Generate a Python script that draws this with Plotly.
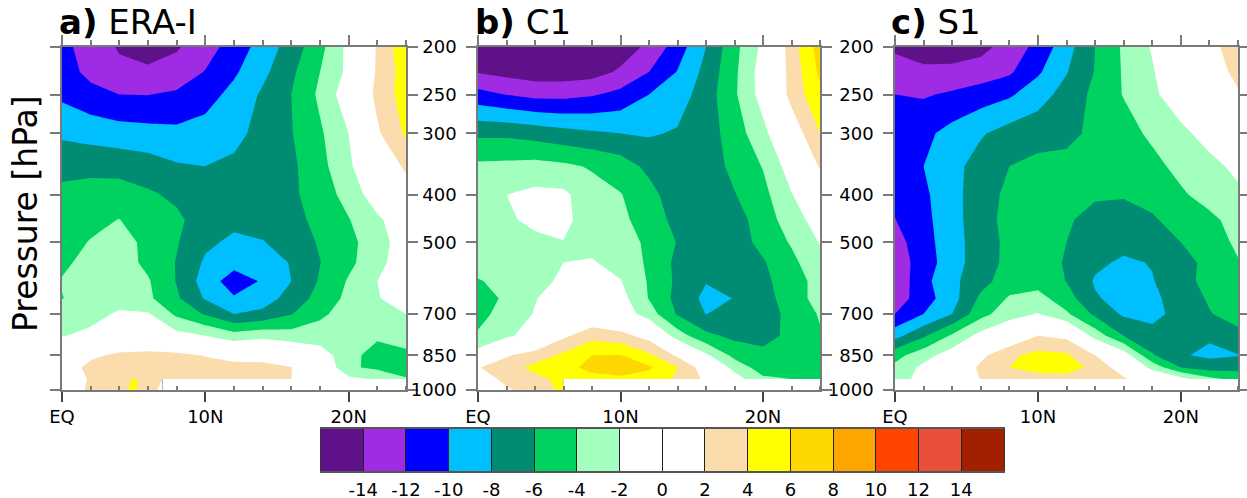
import plotly.graph_objects as go

latitudes = [0, 2, 4, 6, 8, 10, 12, 14, 16, 18, 20, 22, 24]
pressures = [200, 225, 250, 300, 350, 400, 450, 500, 550, 600, 650, 700, 775, 850, 900, 950]

era_i = [
    [-11.5, -12.8, -14.2, -14.7, -14.2, -12.9, -11.1, -9.2, -7.1, -4.6, -1.4, 2.2, 5.5],
    [-11, -12.6, -13.5, -13.7, -13.2, -11.9, -10.3, -8.5, -6.4, -4.0, -1.5, 2.3, 5],
    [-10.4, -11.3, -12, -12.05, -11.7, -10.8, -9.4, -7.7, -6, -3.6, -0.7, 2.5, 5],
    [-8.4, -8.8, -9.1, -9.3, -9.5, -9.2, -8.6, -7.3, -6.1, -4.3, -2, 1.7, 4.3],
    [-6.5, -6.5, -6.7, -7.1, -7.8, -8, -7.6, -7, -6.4, -4.65, -2.4, 0.4, 2.3],
    [-5.6, -5.3, -5.1, -5.7, -6.4, -6.8, -7.2, -7, -6.4, -5, -3.3, -0.8, 1.2],
    [-5.1, -4.5, -3.95, -5.3, -5.6, -7, -7.5, -7.2, -6.7, -5.4, -4.1, -2.4, -0.5],
    [-4.7, -3.9, -3.2, -4.5, -5.85, -7.6, -8.4, -8.1, -7.1, -5.8, -4.6, -2.8, -1],
    [-4.3, -3.5, -3, -4.5, -6.1, -8.3, -9.3, -8.8, -7.9, -6.05, -4.5, -2.6, -0.8],
    [-3.9, -3.2, -2.8, -3.8, -6.1, -8.9, -11, -9.8, -8, -5.8, -3.8, -2, -0.5],
    [-4.05, -3.3, -2.9, -3.6, -5.7, -8.2, -9.8, -9, -7.2, -5.3, -3.5, -2.1, -1.2],
    [-3.2, -2.7, -1.7, -1.8, -4.4, -6.2, -8, -7.5, -6.1, -4.4, -3.1, -2.4, -2],
    [-2.1, -1.5, -1, -0.7, -1.3, -2, -3.2, -2.6, -3.1, -3, -2.7, -3.6, -3],
    [0.2, 1.5, 2.5, 2.7, 2.5, 1.9, 1.2, 1.2, 0.5, -1, -3.2, -5, -4.5],
    [0.5, 2.7, 3.2, 3.2, 3.1, 2.8, 2.7, 2.6, 2.05, 0.3, -3.7, -4.4, -4.5],
    [0, 2.3, 3.5, 3.7, 2.5, 2.5, 2.4, 2.4, 2, 0.3, -1.5, -2.2, -3.9],
]

c1 = [
    [-15, -15.5, -15.8, -15.8, -15.5, -15, -13.6, -11, -8, -4.6, -1.5, 3, 6.9],
    [-14.1, -14.6, -15, -15, -14.8, -13.7, -12, -9.9, -7.4, -4.4, -1, 2.7, 6.4],
    [-11.3, -12.05, -12.6, -12.6, -12.2, -11.4, -10, -9, -7, -4.3, -1.15, 2.65, 5.6],
    [-6.4, -6.4, -6.8, -7.3, -7.7, -8, -8.2, -7.8, -7, -5, -2.6, 0.6, 4],
    [-3.6, -3.5, -3.3, -3.6, -4.2, -5, -6.5, -7, -7, -5.5, -3.9, -1, 2.2],
    [-3, -2, -1.5, -1.6, -3.2, -3.9, -5.3, -7.2, -7.5, -6.1, -4.6, -2.1, 0.2],
    [-2.6, -2.2, -1.7, -1.5, -3, -3.7, -4.6, -6.8, -7.6, -6.9, -5, -3, -1],
    [-3, -2.9, -2.3, -2.05, -2.7, -3.3, -4.3, -6.1, -7.4, -7, -5.4, -3.8, -1.9],
    [-3.4, -3, -2.6, -2, -1.8, -2.8, -4.3, -6.5, -7.6, -7.2, -6.2, -4.5, -2.6],
    [-4.1, -3.6, -2.9, -1.5, -1.1, -1.9, -4.2, -6.4, -7.9, -7.5, -6.5, -4.9, -3.3],
    [-4.8, -3.7, -2.1, -1, -0.8, -1.2, -4.1, -6.6, -8.5, -7.95, -6.9, -4.9, -3.3],
    [-4.8, -3, -1.9, -0.5, 0, -0.7, -3, -6.2, -8.05, -7.2, -6.8, -5.5, -3.8],
    [-3.7, -2.4, -1, 1.6, 3.3, 2.7, 1.2, -3, -5.5, -6.5, -7, -5.3, -4.2],
    [-1, 1.8, 2.9, 4.4, 6, 6.1, 4.4, 1.6, -1.6, -4.6, -5.2, -6, -4.8],
    [1.9, 3, 4.6, 5.3, 6.6, 6.8, 6.3, 4.05, 0.8, -2.7, -5, -5.5, -5],
    [0.7, 2.6, 3.4, 4.6, 5.3, 5.7, 5, 3.7, 1.6, -1, -3.6, -4, -4.2],
]

s1 = [
    [-14.3, -14.9, -15, -14.6, -13.2, -11.4, -8.8, -6, -3.7, -1.8, 0, 1.4, 3],
    [-13.2, -13.6, -13.5, -13.1, -12.3, -10.3, -8.1, -5.9, -3.8, -2.2, 0, 1, 2.5],
    [-12, -12.2, -11.7, -11, -10.3, -8.8, -7.3, -5.5, -3.9, -2.4, -0.8, 0.5, 1.8],
    [-11.5, -10.5, -9.3, -8.2, -7.2, -6.9, -6.7, -5.4, -4.8, -3.6, -2.5, -1.2, -0.5],
    [-11.5, -10, -8.6, -7.2, -6, -5.4, -5.2, -5, -4.8, -4.6, -3.4, -2.6, -1.5],
    [-11.5, -10.4, -8.6, -7, -5.5, -5, -5.2, -5.7, -5.8, -5.2, -4.3, -3.2, -2.4],
    [-12.05, -10.6, -8.7, -6.9, -5.3, -5, -5.7, -6.8, -7, -6.3, -5, -4.5, -3.2],
    [-12.8, -10.8, -8.8, -7, -5.5, -5, -6, -7.3, -7.4, -7, -6, -4.8, -3.7],
    [-13.2, -11, -8.9, -6.9, -5.5, -5, -6.2, -7.6, -8.3, -7.9, -6.8, -5.4, -4.1],
    [-13.5, -10.6, -8.5, -6.7, -5, -4.8, -6.05, -8.2, -8.7, -8.1, -6.9, -5.2, -4.2],
    [-13.1, -10.9, -8.8, -5.6, -3.8, -3.3, -5.1, -7.8, -8.7, -8.5, -7, -5.8, -4.6],
    [-12, -10, -8, -4.7, -2.8, -1.9, -3.7, -6.4, -8.3, -8.6, -7.3, -6.1, -5.3],
    [-8.7, -6.3, -3.7, -1.3, 0, 2, 1.5, -2.8, -6, -7.3, -7.5, -7.75, -6.5],
    [-4.7, -2.8, -1, 1.5, 3.6, 4.6, 4.3, 2, -0.8, -5.8, -7.8, -8.4, -8.1],
    [-3.5, -1.5, 0, 2.4, 4, 4.8, 4.8, 3.5, 0.8, -2.6, -6, -6.9, -6.7],
    [-3, -1.2, -0.5, 2.1, 2.9, 3.1, 3.3, 2.6, 2.3, 0.2, -1.2, -3.5, -4.5],
]

# Lowest layer (950-1000 hPa) only exists near the equator in panels a and b
era_i_low_lat = [0, 1.5, 2, 4, 5, 6, 7]
era_i_low_p = [950, 1000]
era_i_low = [
    [0, 1.7, 2.3, 3.5, 4.1, 3.7, 2.05],
    [0.5, 1.9, 2.5, 3.5, 4.3, 3, 1.4],
]
c1_low_lat = [0, 2, 4, 6]
c1_low_p = [950, 1000]
c1_low = [
    [0.7, 2.6, 3.4, 4.6],
    [0.2, 1.7, 3.0, 4.4],
]

panel_names = ["ERA-I", "C1", "S1"]
panel_tags = ["a)", "b)", "c)"]
level_ticks = [-14, -12, -10, -8, -6, -4, -2, 0, 2, 4, 6, 8, 10, 12, 14]
band_centers = [-15, -13, -11, -9, -7, -5, -3, -1, 1, 3, 5, 7, 9, 11, 13, 15]
band_colors = ["#5e1189", "#a02be4", "#0000ff", "#00bfff", "#008b73", "#00d25f", "#a3ffbd", "#ffffff",
               "#ffffff", "#fadcad", "#ffff00", "#ffd700", "#ffa500", "#ff4500", "#e8503a", "#a02000"]
lat_tick_vals = [0, 10, 20]
lat_tick_text = ["EQ", "10N", "20N"]
lat_minor_vals = [2, 4, 6, 8, 12, 14, 16, 18, 22, 24]
p_tick_vals = [200, 250, 300, 400, 500, 700, 850, 1000]
p_tick_text = ["200", "250", "300", "400", "500", "700", "850", "1000"]

W, H = 1247, 498
AXC = "#7a7a7a"
FONT = "DejaVu Sans"
panels_px = [(62, 406), (478, 820), (895, 1238)]
top_px, bot_px = 47, 390

n = len(band_colors)
colorscale = []
for i, c in enumerate(band_colors):
    colorscale += [[i / n, c], [(i + 1) / n, c]]

fig = go.Figure()


def contour(x, y, z, xa, ya):
    fig.add_trace(go.Contour(
        x=x, y=y, z=z, xaxis=xa, yaxis=ya, autocontour=False, zmin=-16, zmax=16,
        contours=dict(start=-16, end=16, size=2, coloring="fill", showlines=False),
        line=dict(width=0, smoothing=0), colorscale=colorscale, hoverinfo="skip", showscale=False,
    ))


sets = [era_i, c1, s1]
for i in range(3):
    sfx = "" if i == 0 else str(i + 1)
    contour(latitudes, pressures, sets[i], "x" + sfx, "y" + sfx)
contour(era_i_low_lat, era_i_low_p, era_i_low, "x", "y")
contour(c1_low_lat, c1_low_p, c1_low, "x2", "y2")

# Label bar: one row of boxes on its own axis
fig.add_trace(go.Heatmap(
    x=band_centers, y=[0], z=[band_centers], xaxis="x7", yaxis="y7", zmin=-16, zmax=16,
    colorscale=colorscale, showscale=False, hoverinfo="skip",
))

layout = dict(
    width=W, height=H, margin=dict(l=0, r=0, t=0, b=0, autoexpand=False),
    paper_bgcolor="white", plot_bgcolor="white", showlegend=False,
)
annos = []
for i, (l, r) in enumerate(panels_px):
    xn = "xaxis" if i == 0 else f"xaxis{i + 1}"
    yn = "yaxis" if i == 0 else f"yaxis{i + 1}"
    yid = "y" if i == 0 else f"y{i + 1}"
    xid = "x" if i == 0 else f"x{i + 1}"
    topid = f"x{i + 4}"
    dom = [l / W, r / W]
    layout[xn] = dict(
        domain=dom, range=[0, 24], anchor=yid, side="bottom", tickmode="array",
        tickvals=lat_tick_vals, ticktext=lat_tick_text, ticks="outside", ticklen=10, tickwidth=1.5,
        tickcolor="#444444", showgrid=False, zeroline=False, showline=True, linecolor=AXC, linewidth=1.5,
        tickfont=dict(family=FONT, size=18, color="black"), tickangle=0,
        minor=dict(tickmode="array", tickvals=lat_minor_vals, ticks="inside", ticklen=4, tickwidth=1.5,
                   tickcolor=AXC, showgrid=False),
    )
    layout[f"xaxis{i + 4}"] = dict(
        domain=dom, range=[0, 24], anchor=yid, overlaying=xid, side="top", tickmode="array",
        tickvals=lat_tick_vals, ticktext=["", "", ""], ticks="outside", ticklen=10, tickwidth=1.5,
        tickcolor=AXC, showgrid=False, zeroline=False, showline=True, linecolor=AXC, linewidth=1.5,
        minor=dict(tickmode="array", tickvals=lat_minor_vals, ticks="outside", ticklen=5, tickwidth=1.5,
                   tickcolor=AXC, showgrid=False),
    )
    fig.add_trace(go.Scatter(x=[None], y=[None], xaxis=topid, yaxis=yid, hoverinfo="skip", mode="lines"))
    y_labels = p_tick_text if i > 0 else [""] * len(p_tick_text)
    layout[yn] = dict(
        domain=[1 - bot_px / H, 1 - top_px / H], type="log", range=[3, 2.30103], anchor=xid, side="left",
        tickmode="array", tickvals=p_tick_vals, ticktext=y_labels, ticks="outside", ticklen=10, tickwidth=1.5,
        tickcolor=AXC, showgrid=False, zeroline=False, showline=True, linecolor=AXC, linewidth=1.5,
        mirror="ticks", tickfont=dict(family=FONT, size=18, color="black"), ticklabelstandoff=6,
    )
    annos.append(dict(
        xref="paper", yref="paper", x=(l - 5 if i < 2 else 889) / W, y=1 - 22 / H, xanchor="left", yanchor="middle",
        text=f"<b>{panel_tags[i]}</b> {panel_names[i]}", showarrow=False,
        font=dict(family=FONT, size=34, color="black"),
    ))
annos.append(dict(
    xref="paper", yref="paper", x=25 / W, y=1 - 214 / H, xanchor="center", yanchor="middle", textangle=-90,
    text="Pressure [hPa]", showarrow=False, font=dict(family=FONT, size=33, color="black"),
))
layout["annotations"] = annos
layout["xaxis7"] = dict(
    domain=[320.5 / W, 1004 / W], range=[-16, 16], anchor="y7", side="bottom", tickmode="array",
    tickvals=level_ticks, ticktext=[str(v) for v in level_ticks], ticks="inside", ticklen=42, tickwidth=1,
    tickcolor="#222222", showgrid=False, zeroline=False, showline=True, linecolor="#555555", linewidth=1.5,
    mirror=True, tickfont=dict(family=FONT, size=18, color="black"), ticklabelstandoff=2, tickangle=0,
)
layout["yaxis7"] = dict(
    domain=[1 - 471 / H, 1 - 429 / H], anchor="x7", showticklabels=False, ticks="", showgrid=False,
    zeroline=False, showline=True, linecolor="#333333", linewidth=1, mirror=True, range=[-0.5, 0.5],
)
fig.update_layout(**layout)
fig.write_html("out.html", config={"displayModeBar": False}, post_script="document.body.style.margin='0';")
